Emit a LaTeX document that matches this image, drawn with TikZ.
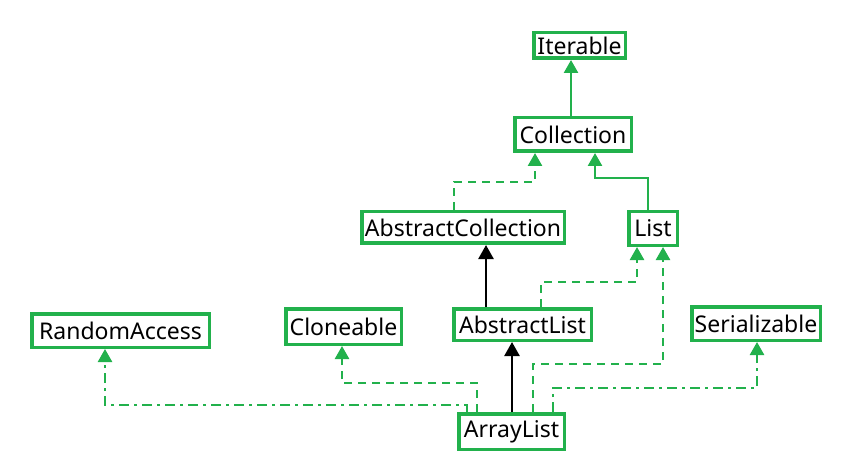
\documentclass[tikz,border=0pt]{standalone}
\usepackage{fontspec}
\setmainfont{Noto Sans}
\usetikzlibrary{arrows.meta}
\definecolor{umlgreen}{RGB}{34,177,76}
\tikzset{
  cls/.style={draw=umlgreen, line width=3.5pt, fill=white, inner sep=0pt, text=black},
  gen/.style={umlgreen, line width=2.5pt, -{Triangle[width=14pt,length=13pt]}},
  impl/.style={gen, dash pattern=on 8pt off 6pt},
  impldot/.style={gen, dash pattern=on 10pt off 5pt on 3pt off 5pt},
  ext/.style={black, line width=2.5pt, -{Triangle[width=15pt,length=14pt]}}
}

\begin{document}
\begin{tikzpicture}[x=1pt, y=-1pt, font=\fontsize{23}{26}\selectfont]
        \useasboundingbox (0,0) rectangle (862,465);
        % interfaces and classes
        \node[cls, minimum width=91.5pt, minimum height=25.5pt] (iterable) at (579.5,45.5) {Iterable};
        \node[cls, minimum width=116.5pt, minimum height=33.5pt] (collection) at (573,134.5) {Collection};
        \node[cls, minimum width=202.5pt, minimum height=31.5pt] (abscoll) at (463,227.5) {AbstractCollection};
        \node[cls, minimum width=48.5pt, minimum height=33.5pt] (list) at (653,228.5) {List};
        \node[cls, minimum width=137.5pt, minimum height=31.5pt] (abslist) at (522.5,324.5) {AbstractList};
        \node[cls, minimum width=177.5pt, minimum height=33.5pt] (randomaccess) at (120.5,330.5) {RandomAccess};
        \node[cls, minimum width=115.5pt, minimum height=35.5pt] (cloneable) at (343.5,326.5) {Cloneable};
        \node[cls, minimum width=128.5pt, minimum height=33.5pt] (serializable) at (756,323.5) {Serializable};
        \node[cls, minimum width=105.5pt, minimum height=35.5pt] (arraylist) at (511.5,431.5) {ArrayList};
        % upper part
        \draw[gen] ([xshift=-2pt]collection.north) -- ([xshift=-8.5pt]iterable.south);
        \draw[gen] ([xshift=-5pt]list.north) -- ++(0,-32) -| ([xshift=22pt]collection.south);
        \draw[impl] ([xshift=-9pt]abscoll.north) -- ++(0,-28) -| ([xshift=-38pt]collection.south);
        \draw[ext] ([xshift=-36.5pt]abslist.north) -- ([xshift=23pt]abscoll.south);
        \draw[impl] ([xshift=18.5pt]abslist.north) -- ++(0,-25) -| ([xshift=-16pt]list.south);
        % ArrayList
        \draw[ext] ([xshift=0.5pt]arraylist.north) -- ([xshift=-10.5pt]abslist.south);
        \draw[impl] ([xshift=21.5pt]arraylist.north) -- ++(0,-48) -| ([xshift=10pt]list.south);
        \draw[impldot] ([xshift=41.5pt]arraylist.north) -- ++(0,-24) -| ([xshift=1pt]serializable.south);
        \draw[impl] ([xshift=-34.5pt]arraylist.north) -- ++(0,-29) -| ([xshift=-1.5pt]cloneable.south);
        \draw[impldot] ([xshift=-44.5pt]arraylist.north) -- ++(0,-7) -| ([xshift=-15.5pt]randomaccess.south);
\end{tikzpicture}
\end{document}
